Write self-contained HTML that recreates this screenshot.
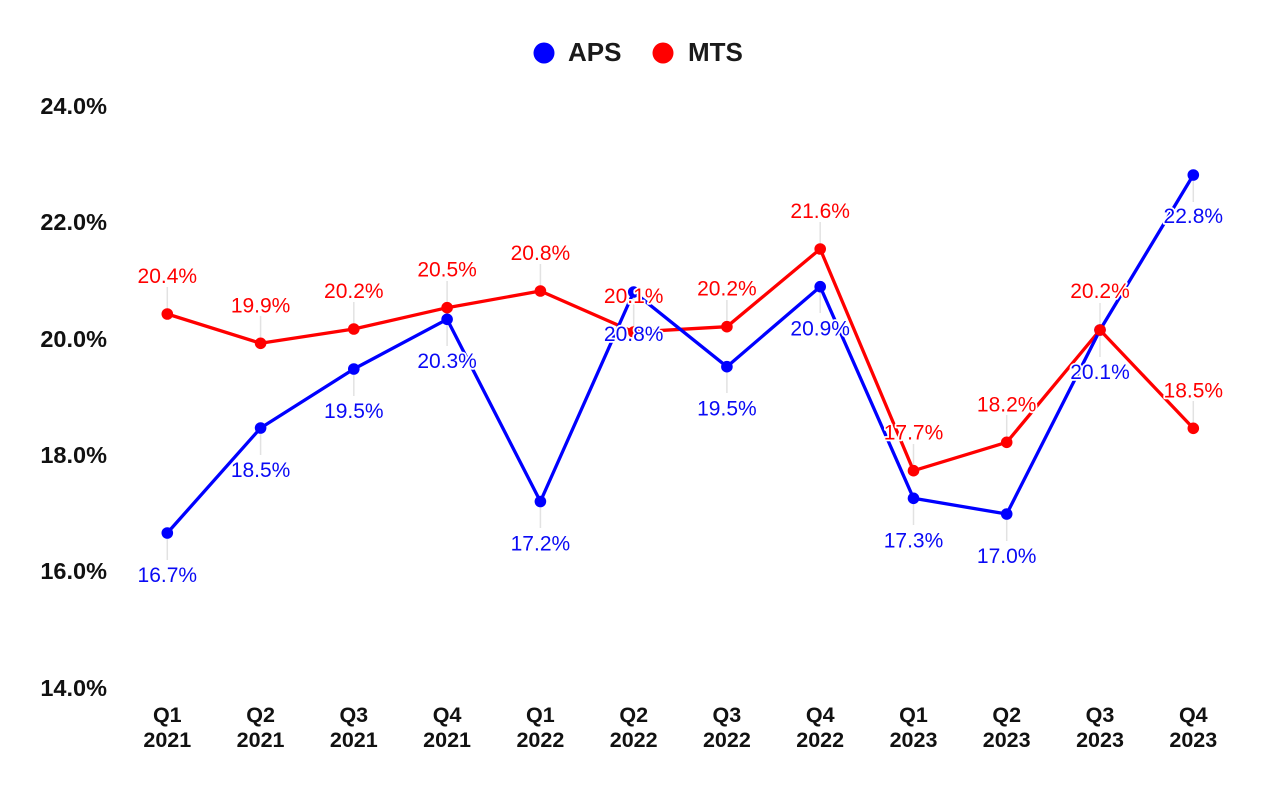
<!DOCTYPE html>
<html>
<head>
<meta charset="utf-8">
<style>
  html, body { margin: 0; padding: 0; background: #ffffff; }
  svg { display: block; }
  .ylab { font-family: "Liberation Sans", Arial, sans-serif; font-weight: bold; font-size: 23.5px; fill: #111; }
  .xlab { font-family: "Liberation Sans", Arial, sans-serif; font-weight: bold; font-size: 21.5px; fill: #111; }
  .leg { font-family: "Liberation Sans", Arial, sans-serif; font-weight: bold; font-size: 26px; fill: #1a1a1a; }
  .dl { font-family: "Liberation Sans", Arial, sans-serif; font-size: 21px; stroke: #fff; stroke-width: 3.5px; paint-order: stroke; stroke-linejoin: round; }
  .b { fill: #0a0af5; }
  .r { fill: #ff0000; }
  .lead { stroke: #e2e2e2; stroke-width: 1.5; }
</style>
</head>
<body>
<svg width="1280" height="790" viewBox="0 0 1280 790" xmlns="http://www.w3.org/2000/svg">
  <!-- Legend -->
  <circle cx="544" cy="53" r="10.5" fill="#0000ff"/>
  <text class="leg" x="568" y="61">APS</text>
  <circle cx="663" cy="53" r="10.5" fill="#ff0000"/>
  <text class="leg" x="688" y="61">MTS</text>

  <!-- Y axis labels -->
  <text class="ylab" x="107" y="114" text-anchor="end">24.0%</text>
  <text class="ylab" x="107" y="230" text-anchor="end">22.0%</text>
  <text class="ylab" x="107" y="347" text-anchor="end">20.0%</text>
  <text class="ylab" x="107" y="463" text-anchor="end">18.0%</text>
  <text class="ylab" x="107" y="579" text-anchor="end">16.0%</text>
  <text class="ylab" x="107" y="696" text-anchor="end">14.0%</text>

  <!-- X axis labels -->
  <g class="xlab" text-anchor="middle">
    <text x="167.3" y="722">Q1</text><text x="167.3" y="747">2021</text>
    <text x="260.6" y="722">Q2</text><text x="260.6" y="747">2021</text>
    <text x="353.8" y="722">Q3</text><text x="353.8" y="747">2021</text>
    <text x="447.1" y="722">Q4</text><text x="447.1" y="747">2021</text>
    <text x="540.4" y="722">Q1</text><text x="540.4" y="747">2022</text>
    <text x="633.7" y="722">Q2</text><text x="633.7" y="747">2022</text>
    <text x="726.9" y="722">Q3</text><text x="726.9" y="747">2022</text>
    <text x="820.2" y="722">Q4</text><text x="820.2" y="747">2022</text>
    <text x="913.5" y="722">Q1</text><text x="913.5" y="747">2023</text>
    <text x="1006.7" y="722">Q2</text><text x="1006.7" y="747">2023</text>
    <text x="1100" y="722">Q3</text><text x="1100" y="747">2023</text>
    <text x="1193.3" y="722">Q4</text><text x="1193.3" y="747">2023</text>
  </g>

  <!-- Leader lines: APS (below) -->
  <g class="lead">
    <line x1="167.3" y1="533" x2="167.3" y2="560"/>
    <line x1="260.6" y1="428" x2="260.6" y2="455"/>
    <line x1="353.8" y1="369" x2="353.8" y2="396"/>
    <line x1="447.1" y1="319.3" x2="447.1" y2="346"/>
    <line x1="540.4" y1="501.5" x2="540.4" y2="528"/>
    <line x1="633.7" y1="292" x2="633.7" y2="319"/>
    <line x1="726.9" y1="366.7" x2="726.9" y2="393"/>
    <line x1="820.2" y1="286.7" x2="820.2" y2="313"/>
    <line x1="913.5" y1="498.3" x2="913.5" y2="525"/>
    <line x1="1006.7" y1="514" x2="1006.7" y2="541"/>
    <line x1="1100" y1="330" x2="1100" y2="357"/>
    <line x1="1193.3" y1="175" x2="1193.3" y2="202"/>
  </g>
  <!-- Leader lines: MTS (above) -->
  <g class="lead">
    <line x1="167.3" y1="314" x2="167.3" y2="287"/>
    <line x1="260.6" y1="343.3" x2="260.6" y2="316"/>
    <line x1="353.8" y1="329" x2="353.8" y2="302"/>
    <line x1="447.1" y1="307.7" x2="447.1" y2="281"/>
    <line x1="540.4" y1="291" x2="540.4" y2="264"/>
    <line x1="633.7" y1="332" x2="633.7" y2="305"/>
    <line x1="726.9" y1="326.7" x2="726.9" y2="300"/>
    <line x1="820.2" y1="249" x2="820.2" y2="222"/>
    <line x1="913.5" y1="470.7" x2="913.5" y2="444"/>
    <line x1="1006.7" y1="442.3" x2="1006.7" y2="415"/>
    <line x1="1100" y1="330" x2="1100" y2="303"/>
    <line x1="1193.3" y1="428.3" x2="1193.3" y2="401"/>
  </g>

  <!-- MTS series -->
  <polyline fill="none" stroke="#ff0000" stroke-width="3.3" stroke-linejoin="round"
    points="167.3,314 260.6,343.3 353.8,329 447.1,307.7 540.4,291 633.7,332 726.9,326.7 820.2,249 913.5,470.7 1006.7,442.3 1100,330 1193.3,428.3"/>
  <!-- APS series -->
  <polyline fill="none" stroke="#0000ff" stroke-width="3.3" stroke-linejoin="round"
    points="167.3,533 260.6,428 353.8,369 447.1,319.3 540.4,501.5 633.7,292 726.9,366.7 820.2,286.7 913.5,498.3 1006.7,514 1100,330 1193.3,175"/>

  <g fill="#0000ff">
    <circle cx="167.3" cy="533" r="5.8"/>
    <circle cx="260.6" cy="428" r="5.8"/>
    <circle cx="353.8" cy="369" r="5.8"/>
    <circle cx="447.1" cy="319.3" r="5.8"/>
    <circle cx="540.4" cy="501.5" r="5.8"/>
    <circle cx="633.7" cy="292" r="5.8"/>
    <circle cx="726.9" cy="366.7" r="5.8"/>
    <circle cx="820.2" cy="286.7" r="5.8"/>
    <circle cx="913.5" cy="498.3" r="5.8"/>
    <circle cx="1006.7" cy="514" r="5.8"/>
    <circle cx="1100" cy="330" r="5.8"/>
    <circle cx="1193.3" cy="175" r="5.8"/>
  </g>
  <g fill="#ff0000">
    <circle cx="167.3" cy="314" r="5.8"/>
    <circle cx="260.6" cy="343.3" r="5.8"/>
    <circle cx="353.8" cy="329" r="5.8"/>
    <circle cx="447.1" cy="307.7" r="5.8"/>
    <circle cx="540.4" cy="291" r="5.8"/>
    <circle cx="633.7" cy="332" r="5.8"/>
    <circle cx="726.9" cy="326.7" r="5.8"/>
    <circle cx="820.2" cy="249" r="5.8"/>
    <circle cx="913.5" cy="470.7" r="5.8"/>
    <circle cx="1006.7" cy="442.3" r="5.8"/>
    <circle cx="1100" cy="330" r="5.8"/>
    <circle cx="1193.3" cy="428.3" r="5.8"/>
  </g>

  <!-- APS data labels (below) -->
  <g class="dl b" text-anchor="middle">
    <text x="167.3" y="582">16.7%</text>
    <text x="260.6" y="477">18.5%</text>
    <text x="353.8" y="418">19.5%</text>
    <text x="447.1" y="368">20.3%</text>
    <text x="540.4" y="550.5">17.2%</text>
    <text x="633.7" y="341">20.8%</text>
    <text x="726.9" y="415.7">19.5%</text>
    <text x="820.2" y="335.7">20.9%</text>
    <text x="913.5" y="547.3">17.3%</text>
    <text x="1006.7" y="563">17.0%</text>
    <text x="1100" y="379">20.1%</text>
    <text x="1193.3" y="223">22.8%</text>
  </g>
  <!-- MTS data labels (above) -->
  <g class="dl r" text-anchor="middle">
    <text x="167.3" y="283">20.4%</text>
    <text x="260.6" y="312.3">19.9%</text>
    <text x="353.8" y="298">20.2%</text>
    <text x="447.1" y="276.7">20.5%</text>
    <text x="540.4" y="260">20.8%</text>
    <text x="633.7" y="303">20.1%</text>
    <text x="726.9" y="295.7">20.2%</text>
    <text x="820.2" y="218">21.6%</text>
    <text x="913.5" y="439.7">17.7%</text>
    <text x="1006.7" y="411.3">18.2%</text>
    <text x="1100" y="298">20.2%</text>
    <text x="1193.3" y="397.3">18.5%</text>
  </g>
</svg>
</body>
</html>
